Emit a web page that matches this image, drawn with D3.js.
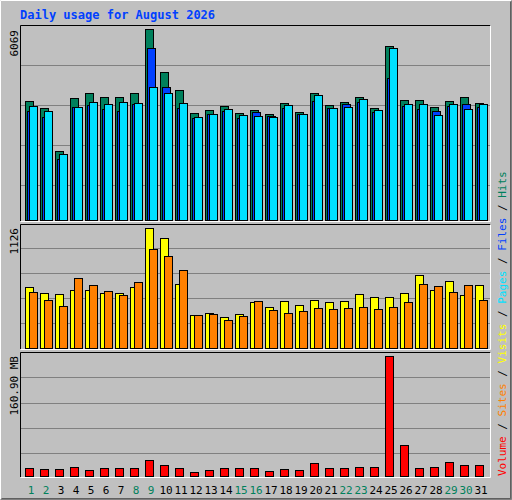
<!DOCTYPE html>
<html><head><meta charset="utf-8">
<script src="https://cdn.jsdelivr.net/npm/d3@7/dist/d3.min.js"></script>
<style>body{margin:0;background:#fff}svg{display:block}</style>
</head><body><svg id="c" width="512" height="500"></svg>
<script>
const days = d3.range(1,32);
const weekend = [1,2,8,9,15,16,22,23,29,30];
const hits = [3781,3558,2192,3876,4035,3908,3908,4035,6069,4702,4130,3399,3495,3622,3399,3495,3368,3717,3431,4035,3654,3749,3908,3558,5528,3812,3812,3590,3781,3908,3717];
const files = [3463,3272,1938,3590,3654,3526,3463,3685,5464,4225,3558,3241,3368,3463,3241,3431,3304,3558,3368,3781,3558,3685,3749,3431,4511,3622,3526,3463,3622,3685,3590];
const pages = [3622,3463,2097,3590,3749,3685,3749,3717,4225,4035,3717,3272,3368,3526,3336,3304,3272,3654,3368,3971,3558,3590,3844,3495,5464,3685,3685,3336,3685,3526,3685];
const visits = [572,516,507,544,544,516,516,572,1126,1032,600,310,328,291,319,431,385,441,403,450,431,441,507,478,478,516,685,544,628,497,591];
const sites = [525,450,394,657,591,535,497,619,929,863,732,310,319,263,300,441,356,328,347,375,366,375,385,366,385,431,600,582,525,591,450];
const volume = [11.2,9.9,9.9,12.6,8.5,11.2,11.2,11.2,22.0,15.3,11.2,5.8,8.5,11.2,11.2,11.2,7.2,9.9,8.5,18.0,11.2,11.2,12.6,12.6,160.9,40.9,11.2,12.6,19.3,15.3,15.3];
const maxLabels = ["6069","1126","160.90 MB"];

const svg = d3.select("#c");
const BG="#c0c0c0", GRID="#808080";
svg.append("rect").attr("width",512).attr("height",500).attr("fill",BG);
// outer 3D border
svg.append("path").attr("d","M0.5,499.5V0.5H511.5").attr("stroke","#fff").attr("fill","none");
svg.append("path").attr("d","M0.5,499.5H511.5V0.5").attr("stroke","#808080").attr("fill","none");
svg.append("path").attr("d","M1.5,498.5H510.5V1.5").attr("stroke","#000").attr("fill","none").attr("opacity",0.5);

svg.append("text").attr("x",20).attr("y",19).text("Daily usage for August 2026")
  .attr("font-family","DejaVu Sans Mono").attr("font-weight","bold").attr("font-size",12).attr("fill","#0040ff");

const x = d3.scaleLinear().domain([1,2]).range([25,40]);

function panel(top,bot){
  svg.append("path").attr("d",`M20.5,${bot}V${top+0.5}H490.5`).attr("stroke","#000").attr("fill","none");
  svg.append("path").attr("d",`M20.5,${bot+0.5}H490.5V${top+0.5}`).attr("stroke","#fff").attr("fill","none");
}
function grid(y, vals){
  vals.forEach(v=>svg.append("line").attr("x1",21).attr("x2",490).attr("y1",Math.round(y(v))+0.5).attr("y2",Math.round(y(v))+0.5).attr("stroke",GRID));
}
function bars(data,y,off,w,color){
  svg.append("g").selectAll("rect").data(data).join("rect")
    .attr("x",(d,i)=>x(i+1)+off+0.5).attr("y",d=>Math.round(y(d))+0.5)
    .attr("width",w).attr("height",d=>y(0)-Math.round(y(d)))
    .attr("fill",color).attr("stroke","#000");
}

// panel 1
panel(25,221);
const y1 = d3.scaleLinear().domain([0,6069]).range([220,29]);
grid(y1,[4925,3654,2383,1112]);
bars(hits,y1,0,8,"#00805c");
bars(files,y1,2,8,"#0040ff");
bars(pages,y1,4,8,"#00e0ff");

// panel 2
panel(224,349);
const y2 = d3.scaleLinear().domain([0,1126]).range([348,228]);
grid(y2,[938,704,469,235]);
bars(visits,y2,0,8,"#ffff00");
bars(sites,y2,4,8,"#ff8000");

// panel 3
panel(352,477);
const y3 = d3.scaleLinear().domain([0,160.9]).range([476,356]);
grid(y3,[132.2,98.5,64.8,31.1]);
bars(volume,y3,0,8,"#ff0000");

// max labels
[[30,maxLabels[0]],[228,maxLabels[1]],[356,maxLabels[2]]].forEach(([yy,t])=>{
  svg.append("text").attr("transform",`translate(18,${yy}) rotate(-90)`).attr("text-anchor","end")
    .attr("font-family","DejaVu Sans Mono").attr("font-size",11).attr("fill","#000").text(t);
});

// day labels
svg.append("g").selectAll("text").data(days).join("text")
  .attr("x",d=>x(d)+6).attr("y",494).attr("text-anchor","middle")
  .attr("font-family","DejaVu Sans Mono").attr("font-size",11)
  .attr("fill",d=>weekend.includes(d)?"#00805c":"#000").text(d=>d);

// right legend
const leg = [["Volume","#ff0000"],["Sites","#ff8000"],["Visits","#ffff00"],["Pages","#00e0ff"],["Files","#0040ff"],["Hits","#00805c"]];
const t = svg.append("text").attr("transform","translate(506,476) rotate(-90)")
  .attr("font-family","DejaVu Sans Mono").attr("font-size",11);
leg.forEach(([n,c],i)=>{
  if(i>0) t.append("tspan").attr("fill","#000").text(" / ");
  t.append("tspan").attr("fill",c).text(n);
});
</script></body></html>
